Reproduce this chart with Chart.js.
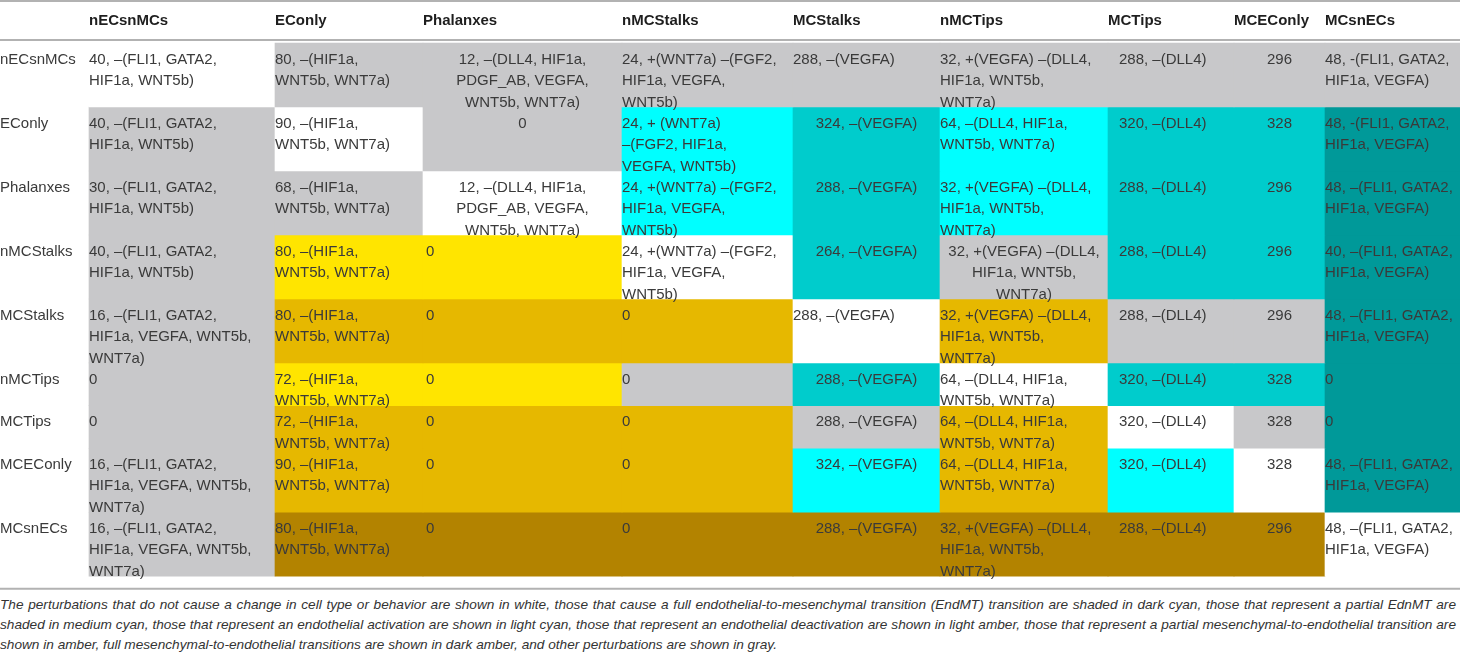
<!DOCTYPE html>
<html>
<head>
<meta charset="utf-8">
<script src="https://cdn.jsdelivr.net/npm/chart.js@4.4.1/dist/chart.umd.min.js"></script>
<style>
  html, body { margin: 0; padding: 0; background: #fff; }
  #wrap { position: relative; width: 1460px; height: 653px; overflow: hidden; }
  #table-chart { display: block; }
  #caption {
    position: absolute; left: 0; top: 595px; width: 1456px;
    font: italic 13.65px 'Liberation Sans', Arial, sans-serif;
    line-height: 20px; color: #333; white-space: nowrap;
  }
  #caption span { display: block; }
  #caption .full { text-align: justify; text-align-last: justify; }
</style>
</head>
<body>
<div id="wrap">
  <canvas id="table-chart" width="1460" height="592"></canvas>
  <div id="caption">
    <span class="full">The perturbations that do not cause a change in cell type or behavior are shown in white, those that cause a full endothelial-to-mesenchymal transition (EndMT) transition are shaded in dark cyan, those that represent a partial EdnMT are</span>
    <span class="full">shaded in medium cyan, those that represent an endothelial activation are shown in light cyan, those that represent an endothelial deactivation are shown in light amber, those that represent a partial mesenchymal-to-endothelial transition are</span>
    <span>shown in amber, full mesenchymal-to-endothelial transitions are shown in dark amber, and other perturbations are shown in gray.</span>
  </div>
</div>
<script>
'use strict';

// ------- Table data ------- //
const columns = ['nECsnMCs', 'EConly', 'Phalanxes', 'nMCStalks', 'MCStalks', 'nMCTips', 'MCTips', 'MCEConly', 'MCsnECs'];
const rowLabels = ['nECsnMCs', 'EConly', 'Phalanxes', 'nMCStalks', 'MCStalks', 'nMCTips', 'MCTips', 'MCEConly', 'MCsnECs'];

// cell texts, one array per row ('\n' = line break as printed)
const rowNECsnMCs = ['40, –(FLI1, GATA2,\nHIF1a, WNT5b)', '80, –(HIF1a,\nWNT5b, WNT7a)', '12, –(DLL4, HIF1a,\nPDGF_AB, VEGFA,\nWNT5b, WNT7a)', '24, +(WNT7a) –(FGF2,\nHIF1a, VEGFA,\nWNT5b)', '288, –(VEGFA)', '32, +(VEGFA) –(DLL4,\nHIF1a, WNT5b,\nWNT7a)', '288, –(DLL4)', '296', '48, -(FLI1, GATA2,\nHIF1a, VEGFA)'];
const rowEConly = ['40, –(FLI1, GATA2,\nHIF1a, WNT5b)', '90, –(HIF1a,\nWNT5b, WNT7a)', '0', '24, + (WNT7a)\n–(FGF2, HIF1a,\nVEGFA, WNT5b)', '324, –(VEGFA)', '64, –(DLL4, HIF1a,\nWNT5b, WNT7a)', '320, –(DLL4)', '328', '48, -(FLI1, GATA2,\nHIF1a, VEGFA)'];
const rowPhalanxes = ['30, –(FLI1, GATA2,\nHIF1a, WNT5b)', '68, –(HIF1a,\nWNT5b, WNT7a)', '12, –(DLL4, HIF1a,\nPDGF_AB, VEGFA,\nWNT5b, WNT7a)', '24, +(WNT7a) –(FGF2,\nHIF1a, VEGFA,\nWNT5b)', '288, –(VEGFA)', '32, +(VEGFA) –(DLL4,\nHIF1a, WNT5b,\nWNT7a)', '288, –(DLL4)', '296', '48, –(FLI1, GATA2,\nHIF1a, VEGFA)'];
const rowNMCStalks = ['40, –(FLI1, GATA2,\nHIF1a, WNT5b)', '80, –(HIF1a,\nWNT5b, WNT7a)', '0', '24, +(WNT7a) –(FGF2,\nHIF1a, VEGFA,\nWNT5b)', '264, –(VEGFA)', '32, +(VEGFA) –(DLL4,\nHIF1a, WNT5b,\nWNT7a)', '288, –(DLL4)', '296', '40, –(FLI1, GATA2,\nHIF1a, VEGFA)'];
const rowMCStalks = ['16, –(FLI1, GATA2,\nHIF1a, VEGFA, WNT5b,\nWNT7a)', '80, –(HIF1a,\nWNT5b, WNT7a)', '0', '0', '288, –(VEGFA)', '32, +(VEGFA) –(DLL4,\nHIF1a, WNT5b,\nWNT7a)', '288, –(DLL4)', '296', '48, –(FLI1, GATA2,\nHIF1a, VEGFA)'];
const rowNMCTips = ['0', '72, –(HIF1a,\nWNT5b, WNT7a)', '0', '0', '288, –(VEGFA)', '64, –(DLL4, HIF1a,\nWNT5b, WNT7a)', '320, –(DLL4)', '328', '0'];
const rowMCTips = ['0', '72, –(HIF1a,\nWNT5b, WNT7a)', '0', '0', '288, –(VEGFA)', '64, –(DLL4, HIF1a,\nWNT5b, WNT7a)', '320, –(DLL4)', '328', '0'];
const rowMCEConly = ['16, –(FLI1, GATA2,\nHIF1a, VEGFA, WNT5b,\nWNT7a)', '90, –(HIF1a,\nWNT5b, WNT7a)', '0', '0', '324, –(VEGFA)', '64, –(DLL4, HIF1a,\nWNT5b, WNT7a)', '320, –(DLL4)', '328', '48, –(FLI1, GATA2,\nHIF1a, VEGFA)'];
const rowMCsnECs = ['16, –(FLI1, GATA2,\nHIF1a, VEGFA, WNT5b,\nWNT7a)', '80, –(HIF1a,\nWNT5b, WNT7a)', '0', '0', '288, –(VEGFA)', '32, +(VEGFA) –(DLL4,\nHIF1a, WNT5b,\nWNT7a)', '288, –(DLL4)', '296', '48, –(FLI1, GATA2,\nHIF1a, VEGFA)'];

// cell class per row: W none, G other, LC/MC/DC light/medium/dark cyan, LA/A/DA light/normal/dark amber
const shadeNECsnMCs = ['W', 'G', 'G', 'G', 'G', 'G', 'G', 'G', 'G'];
const shadeEConly = ['G', 'W', 'G', 'LC', 'MC', 'LC', 'MC', 'MC', 'DC'];
const shadePhalanxes = ['G', 'G', 'W', 'LC', 'MC', 'LC', 'MC', 'MC', 'DC'];
const shadeNMCStalks = ['G', 'LA', 'LA', 'W', 'MC', 'G', 'MC', 'MC', 'DC'];
const shadeMCStalks = ['G', 'A', 'A', 'A', 'W', 'A', 'G', 'G', 'DC'];
const shadeNMCTips = ['G', 'LA', 'LA', 'G', 'MC', 'W', 'MC', 'MC', 'DC'];
const shadeMCTips = ['G', 'A', 'A', 'A', 'G', 'A', 'W', 'G', 'DC'];
const shadeMCEConly = ['G', 'A', 'A', 'A', 'LC', 'A', 'LC', 'W', 'DC'];
const shadeMCsnECs = ['G', 'DA', 'DA', 'DA', 'DA', 'DA', 'DA', 'DA', 'W'];

const cellRows = [rowNECsnMCs, rowEConly, rowPhalanxes, rowNMCStalks, rowMCStalks, rowNMCTips, rowMCTips, rowMCEConly, rowMCsnECs];
const shadeRows = [shadeNECsnMCs, shadeEConly, shadePhalanxes, shadeNMCStalks, shadeMCStalks, shadeNMCTips, shadeMCTips, shadeMCEConly, shadeMCsnECs];

// ------- Layout / style ------- //
const shadeColors = {
  W: '#ffffff',
  G: '#c8c8ca',
  LC: '#00ffff',
  MC: '#00cccc',
  DC: '#009999',
  LA: '#ffe500',
  A: '#e6b800',
  DA: '#b38300',
};
const WIDTH = 1460;
const HEIGHT = 592;
const colEdges = [89, 275, 423, 622, 793, 940, 1108, 1234, 1325, 1460];
const colInset = [0, 0, 3, 0, 0, 0, 11, 0, 0];
const cellAlign = ['llcllllcl', 'llclcllcl', 'llclcllcl', 'llllcclcl', 'lllllllcl', 'llllcllcl', 'llllcllcl', 'llllcllcl', 'llllcllcl'];
const headerHeight = 43;
const lineStep = 21.33;
const textLineGap = 21.5;
const firstLineOffset = 16.5;
const bodyFont = '15px "Liberation Sans", Arial, sans-serif';
const headFont = 'bold 15px "Liberation Sans", Arial, sans-serif';

const rowHeights = cellRows.map((row) => Math.max(...row.map((t) => t.split('\n').length), 2) * lineStep);
const rowTops = [];
rowHeights.reduce((top, h) => {
  rowTops.push(top);
  return top + h;
}, headerHeight);
const tableBottom = rowTops[rowTops.length - 1] + rowHeights[rowHeights.length - 1];

const datasets = cellRows.map((row, i) => ({
  label: rowLabels[i],
  data: row.map((text, j) => ({ x: [colEdges[j], colEdges[j + 1]], y: rowTops[i] + rowHeights[i] / 2 })),
  cellText: row,
  backgroundColor: shadeRows[i].map((s) => shadeColors[s]),
  borderWidth: 0,
  barThickness: rowHeights[i],
  grouped: false,
}));

// draws header, rules, row labels and the text inside every bar
const tableText = {
  id: 'tableText',
  afterDatasetsDraw(chart) {
    const { ctx } = chart;
    const xs = chart.scales.x;
    const ys = chart.scales.y;
    ctx.save();

    // rules
    ctx.strokeStyle = '#b2b2b2';
    ctx.lineWidth = 2;
    [1, 40, tableBottom + 12.5].forEach((v) => {
      const py = ys.getPixelForValue(v);
      ctx.beginPath();
      ctx.moveTo(xs.getPixelForValue(0), py);
      ctx.lineTo(xs.getPixelForValue(WIDTH), py);
      ctx.stroke();
    });

    ctx.textBaseline = 'middle';

    // column headers
    ctx.font = headFont;
    ctx.fillStyle = '#1e1e1e';
    ctx.textAlign = 'left';
    columns.forEach((name, j) => {
      ctx.fillText(name, xs.getPixelForValue(colEdges[j]), ys.getPixelForValue(21));
    });

    ctx.font = bodyFont;
    ctx.fillStyle = '#3a3a3a';
    chart.data.datasets.forEach((ds, i) => {
      const meta = chart.getDatasetMeta(i);
      meta.data.forEach((bar, j) => {
        const p = bar.getProps(['x', 'y', 'base', 'height'], true);
        const left = Math.min(p.base, p.x);
        const right = Math.max(p.base, p.x);
        const top = p.y - p.height / 2;
        const lines = ds.cellText[j].split('\n');
        const centered = cellAlign[i][j] === 'c';
        ctx.textAlign = centered ? 'center' : 'left';
        const tx = centered ? (left + right) / 2 : left + colInset[j];
        lines.forEach((line, k) => {
          ctx.fillText(line, tx, top + firstLineOffset + k * textLineGap);
        });
        if (j === 0) {
          ctx.textAlign = 'left';
          ctx.fillText(ds.label, xs.getPixelForValue(0), top + firstLineOffset);
        }
      });
    });
    ctx.restore();
  },
};

new Chart(document.getElementById('table-chart'), {
  type: 'bar',
  data: {
    labels: rowLabels,
    datasets: datasets,
  },
  options: {
    indexAxis: 'y',
    responsive: false,
    animation: false,
    devicePixelRatio: 1,
    events: [],
    layout: { padding: 0 },
    scales: {
      x: { type: 'linear', min: 0, max: WIDTH, offset: false, display: false },
      y: { type: 'linear', min: 0, max: HEIGHT, reverse: true, offset: false, display: false },
    },
    plugins: {
      legend: { display: false },
      tooltip: { enabled: false },
    },
  },
  plugins: [tableText],
});
</script>
</body>
</html>
